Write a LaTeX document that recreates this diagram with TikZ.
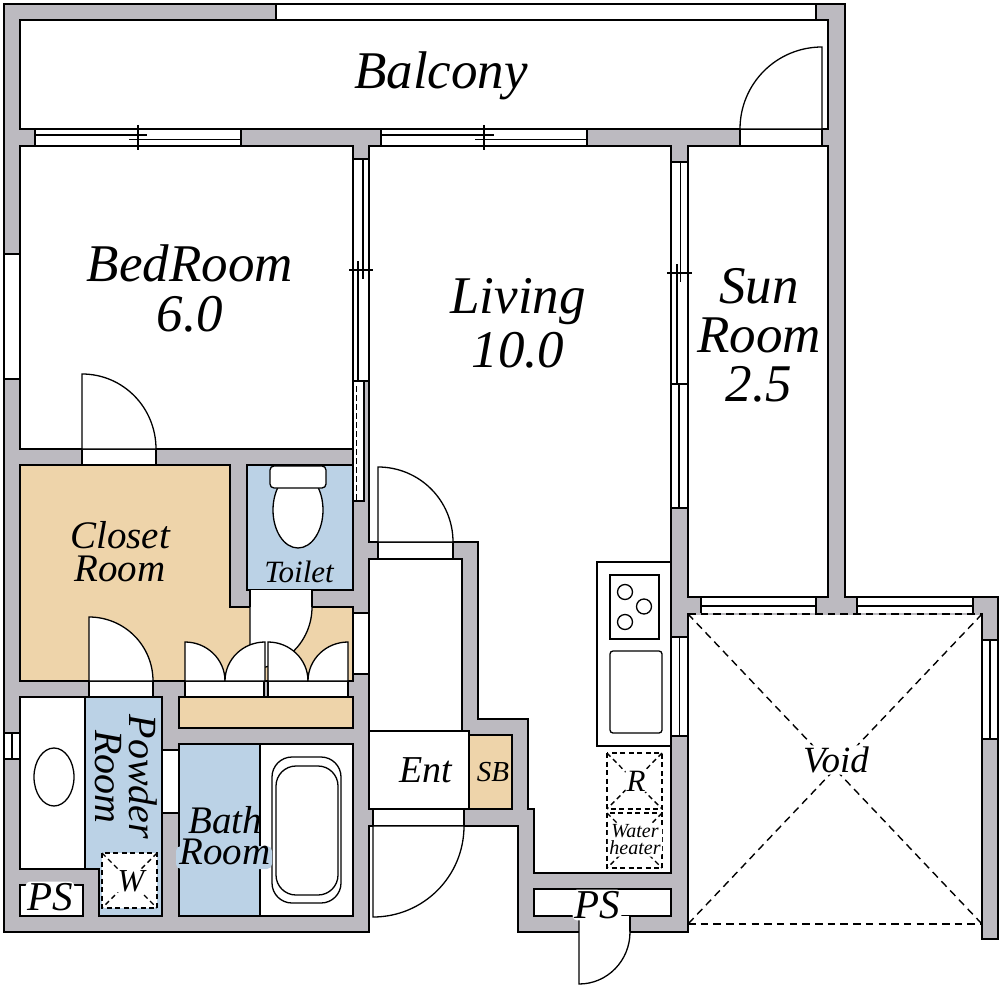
\documentclass[tikz,border=0pt]{standalone}
\usepackage{fontspec}
\setmainfont{Liberation Serif}
\usepackage{tikz}
\usetikzlibrary{positioning,calc}

\definecolor{wallgray}{HTML}{BCBAC0}
\definecolor{bluefill}{HTML}{BBD2E6}
\definecolor{tanfill}{HTML}{EED4AA}

\tikzset{
  wall/.style={draw=black,fill=wallgray,line width=1.4pt,line join=miter},
  room/.style={draw=black,fill=white,line width=1.4pt},
  wetroom/.style={draw=black,fill=bluefill,line width=1.4pt},
  closet/.style={draw=black,fill=tanfill,line width=1.4pt},
  leaf/.style={draw=black,fill=white,line width=1.3pt},
  sash/.style={draw=black,line width=1.2pt},
  fixture/.style={draw=black,fill=white,line width=1.3pt},
  dashbox/.style={draw=black,fill=white,line width=1.4pt,dash pattern=on 5pt off 3.5pt},
  dashline/.style={draw=black,line width=1.4pt,dash pattern=on 7.5pt off 5.2pt},
  txt/.style 2 args={font=\itshape\fontsize{#1}{#2}\selectfont,align=center,inner sep=0pt},
  blank/.style={fill=white,rounded corners=4pt,inner sep=1.5pt}
}

\begin{document}
\begin{tikzpicture}[x=1pt,y=-1pt]

  \useasboundingbox (0,0) rectangle (1000,987);
  \fill[white] (0,0) rectangle (1000,987);

  % walls
  \draw[wall] (4,4) -- (845,4) -- (845,597) -- (998,597) -- (998,939) -- (982,939)
    -- (982,614) -- (688,614) -- (688,932) -- (518,932) -- (518,826) -- (369,826)
    -- (369,932) -- (4,932) -- cycle;

  % balcony
  \draw[room] (276,4) rectangle (816,20);
  \draw[room] (20,20) rectangle (828,129);

  % main rooms
  \draw[room] (20,146) rectangle (353,449);
  \draw[room] (688,146) rectangle (828,597);
  \draw[room] (369,146) -- (671,146) -- (671,873) -- (534,873) -- (534,809) -- (528,809)
    -- (528,719) -- (478,719) -- (478,542) -- (369,542) -- cycle;
  \draw[room] (369,559) rectangle (462,731);
  \draw[room] (369,731) rectangle (469,809);
  \draw[closet] (469,735) rectangle (512,809);

  % closet, toilet
  \draw[closet] (20,465) -- (230,465) -- (230,607) -- (353,607) -- (353,681) -- (20,681) -- cycle;
  \draw[closet] (179,697) rectangle (353,728);
  \draw[wetroom] (247,465) rectangle (353,590);
  \draw[fixture] (298,510) ellipse (25 and 38);
  \draw[fixture,rounded corners=4pt] (270,466) rectangle (326,488);

  % washroom, bath
  \draw[room] (20,697) rectangle (85,869);
  \draw[wetroom] (85,697) -- (162,697) -- (162,916) -- (99,916) -- (99,869) -- (85,869) -- cycle;
  \draw[fixture] (54,777) ellipse (20 and 29);
  \draw[room] (20,885) rectangle (83,916);
  \draw[room] (179,744) rectangle (353,916);
  \draw[wetroom] (179,744) rectangle (260,916);
  \draw[fixture,rounded corners=20pt] (272,757) rectangle (341,903);
  \draw[fixture,rounded corners=20pt] (276,766) rectangle (338,895);
  \draw[room] (162,750) rectangle (179,813);
  \draw[room] (353,613) rectangle (369,674);
  \fill[bluefill,rounded corners=5pt] (176,846) rectangle (272,869);

  % kitchen
  \draw[room] (597,562) rectangle (671,746);
  \draw[fixture] (610,575) rectangle (659,639);
  \draw[fixture] (625,592) circle (7.5);
  \draw[fixture] (644,606.5) circle (7.5);
  \draw[fixture] (625,622) circle (7.5);
  \draw[fixture,rounded corners=3pt] (610,651) rectangle (662,733);

  % pipe space
  \draw[room] (534,889) rectangle (671,916);

  % windows, balcony side
  \draw[room] (35,129) rectangle (241,146);
  \draw[sash] (35,135) -- (147,135);
  \draw[sash] (129,139.5) -- (241,139.5);
  \draw[sash] (138,125) -- (138,150);
  \draw[room] (381,129) rectangle (587,146);
  \draw[sash] (381,135) -- (494,135);
  \draw[sash] (475,139.5) -- (587,139.5);
  \draw[sash] (484,125) -- (484,150);

  % windows, bedroom to living
  \draw[room] (353,159) rectangle (369,381);
  \draw[sash] (363,159) -- (363,279);
  \draw[sash] (358,261) -- (358,381);
  \draw[sash] (349,270) -- (373,270);
  \draw[room] (353,381) rectangle (364,501);
  \draw[sash,dash pattern=on 5.5pt off 3.5pt] (356.5,386) -- (356.5,500);

  % windows, living to sun room
  \draw[room] (671,162) rectangle (688,508);
  \draw[sash] (680.5,162) -- (680.5,282);
  \draw[sash] (677,264) -- (677,384);
  \draw[sash] (667,273) -- (692,273);
  \draw[sash] (671,384) -- (688,384);
  \draw[sash] (679,384) -- (679,508);
  \draw[room] (671,637) rectangle (688,736);
  \draw[sash] (679.5,637) -- (679.5,736);

  % windows, outer walls
  \draw[room] (4,254) rectangle (20,379);
  \draw[room] (4,733) rectangle (20,759);
  \draw[sash] (12,733) -- (12,759);
  \draw[room] (701,597) rectangle (816,614);
  \draw[sash] (701,606) -- (816,606);
  \draw[room] (857,597) rectangle (973,614);
  \draw[sash] (857,606) -- (973,606);
  \draw[room] (982,640) rectangle (998,739);
  \draw[sash] (990,640) -- (990,739);

  % door openings
  \draw[room] (82,449) rectangle (156,465);
  \draw[room] (89,681) rectangle (153,697);
  \fill[white] (250,590) rectangle (312,607);
  \draw[sash] (250,590) -- (250,607);
  \draw[sash] (312,590) -- (312,607);
  \draw[room] (185,681) rectangle (264,697);
  \draw[room] (268,681) rectangle (348,697);
  \draw[room] (740,129) rectangle (822,146);
  \draw[room] (378,542) rectangle (453,559);
  \draw[room] (373,809) rectangle (464,826);
  \fill[white] (579,916) rectangle (630,932);
  \draw[sash] (630,916) -- (630,932);

  % door leaves
  \draw[leaf] (82,449) -- (82,374) to[out=0,in=90] (156,449) -- cycle;
  \draw[leaf] (89,681) -- (89,617) to[out=0,in=90] (153,681) -- cycle;
  \draw[leaf] (250,607) -- (250,669) to[out=0,in=-90] (312,607);
  \draw[leaf] (185,681) -- (185,642) to[out=0,in=90] (225,681) -- cycle;
  \draw[leaf] (265,681) -- (265,642) to[out=180,in=90] (225,681) -- cycle;
  \draw[leaf] (268,681) -- (268,642) to[out=0,in=90] (308,681) -- cycle;
  \draw[leaf] (348,681) -- (348,642) to[out=180,in=90] (308,681) -- cycle;
  \draw[leaf] (822,129) -- (822,47) to[out=180,in=90] (740,129) -- cycle;
  \draw[sash] (822,129) -- (822,146);
  \draw[leaf] (378,542) -- (378,467) to[out=0,in=90] (453,542) -- cycle;
  \draw[leaf] (373,826) -- (373,917) to[out=0,in=-90] (464,826) -- cycle;
  \draw[leaf] (579,916) -- (579,984) to[out=0,in=-90] (630,932);

  % dashed machine spots
  \draw[dashbox] (102,853) rectangle (157,908);
  \draw[dashbox] (102,853) -- (157,908) (157,853) -- (102,908);
  \draw[dashbox] (607,753) rectangle (662,809);
  \draw[dashbox] (607,753) -- (662,809) (662,753) -- (607,809);
  \draw[dashbox] (607,813) rectangle (662,868);
  \draw[dashbox] (607,813) -- (662,868) (662,813) -- (607,868);

  % void
  \coordinate (va) at (688,614);
  \coordinate (vb) at (982,614);
  \coordinate (vc) at (982,924);
  \coordinate (vd) at (688,924);
  \draw[line width=1.5pt,wallgray] (va) -- (vb);
  \draw[dashline] (va) -- (vb);
  \draw[dashline] (va) -- (vc);
  \draw[dashline] (vb) -- (vd);
  \draw[dashline] (vd) -- (vc);

  % labels
  \node[txt={53}{50}] (balcony) at (441,76) {Balcony};
  \node[txt={53}{50}] (bedroom) at (190,288) {BedRoom\\6.0};
  \node[txt={53}{54}] (living) at (518,323) {Living\\10.0};
  \node[txt={53}{49}] (sunroom) at (759,335) {Sun\\Room\\2.5};
  \node[txt={39}{33}] (closetroom) at (120,552) {Closet\\Room};
  \node[txt={31}{30}] (toilet) at (299,572) {Toilet};
  \node[txt={40}{34},rotate=-90] (powder) at (126,777) {Powder\\Room};
  \node[txt={39}{31}] (bath) at (225,836) {Bath\\Room};
  \node[txt={38}{38}] (ent) at (426,770) {Ent};
  \node[txt={29}{29}] (sb) at (493,772) {SB};
  \node[txt={41}{40},blank] (psa) at (50,897) {PS};
  \node[txt={41}{40},blank] (psb) at (597,905) {PS};
  \node[txt={32}{32},blank] (washer) at (131,881) {W};
  \node[txt={31}{31},blank] (fridge) at (636,781) {R};
  \node[txt={20}{17},blank] (heater) at (635,840) {Water\\heater};
  \node[txt={37}{37},blank] (void) at (836,760) {Void};

\end{tikzpicture}
\end{document}
